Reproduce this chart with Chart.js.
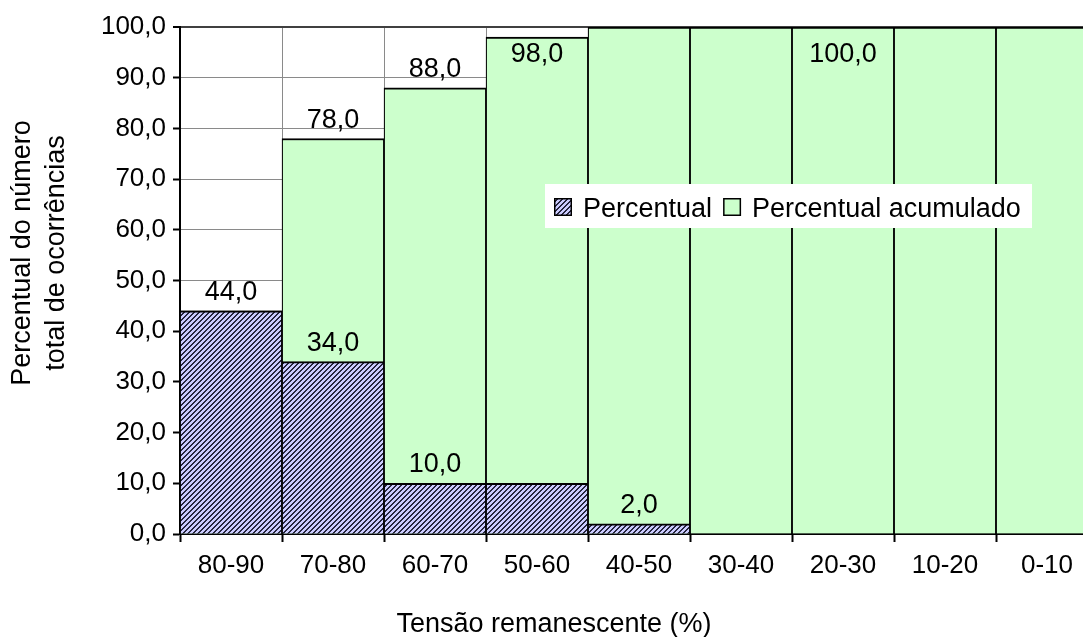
<!DOCTYPE html>
<html>
<head>
<meta charset="utf-8">
<script src="https://cdn.jsdelivr.net/npm/chart.js@4/dist/chart.umd.min.js"></script>
<style>
  html, body { margin: 0; padding: 0; background: #ffffff; overflow: hidden; }
  #wrap { width: 1100px; height: 637px; }
</style>
</head>
<body>
<div id="wrap"><canvas id="chart" width="1100" height="637"></canvas></div>
<script>
// Voltage sag classes (remaining voltage, %)
const categories = ['80-90', '70-80', '60-70', '50-60', '40-50', '30-40', '20-30', '10-20', '0-10'];
// Share of the total number of events per class
const percentual = [44, 34, 10, 10, 2, 0, 0, 0, 0];
// Running total of the shares
const acumulado = [44, 78, 88, 98, 100, 100, 100, 100, 100];
// Which value labels are printed for each series
const showPercentualLabel = [true, true, true, false, true, false, false, false, false];
const showAcumuladoLabel = [false, true, true, true, false, false, true, false, false];
// Value axis range
const yMin = 0;
const yMax = 100;
const yStep = 10;

const FONT = '"Liberation Sans", Arial, sans-serif';
const fmt = v => Number(v).toFixed(1).replace('.', ',');

// Diagonal hatch fill for the "Percentual" bars
function makeHatch(g0) {
  const s = 5;
  const c = document.createElement('canvas');
  c.width = s; c.height = s;
  const g = c.getContext('2d');
  g.fillStyle = '#ccccff';
  g.fillRect(0, 0, s, s);
  g.fillStyle = '#26263e';
  for (let x = 0; x < s; x++) {
    for (let y = 0; y < s; y++) {
      if ((x + y) % s < 2) g.fillRect(x, y, 1, 1);
    }
  }
  return g0.createPattern(c, 'repeat');
}
const ctx0 = document.getElementById('chart').getContext('2d');
const hatch = makeHatch(ctx0);

// Value labels above the bars
const valueLabels = {
  id: 'valueLabels',
  afterDatasetsDraw(chart) {
    const ctx = chart.ctx;
    const area = chart.chartArea;
    const flags = [showPercentualLabel, showAcumuladoLabel];
    ctx.save();
    ctx.font = '27px ' + FONT;
    ctx.fillStyle = '#000';
    ctx.textAlign = 'center';
    ctx.textBaseline = 'alphabetic';
    chart.data.datasets.forEach((ds, di) => {
      const meta = chart.getDatasetMeta(di);
      meta.data.forEach((el, i) => {
        if (!flags[di][i]) return;
        const y = Math.max(el.y - 11, area.top + 35);
        ctx.fillText(fmt(ds.data[i]), el.x, y);
      });
    });
    ctx.restore();
  }
};

// Legend box inside the plot area
const boxLegend = {
  id: 'boxLegend',
  afterDraw(chart) {
    const ctx = chart.ctx;
    const x0 = 545, y0 = 184, w = 487, h = 44;
    ctx.save();
    ctx.fillStyle = '#ffffff';
    ctx.fillRect(x0, y0, w, h);
    ctx.font = '27px ' + FONT;
    ctx.textBaseline = 'alphabetic';
    ctx.textAlign = 'left';
    let x = x0 + 9;
    chart.data.datasets.forEach(ds => {
      ctx.fillStyle = ds.backgroundColor;
      ctx.fillRect(x, y0 + 14, 18, 18);
      ctx.strokeStyle = '#000';
      ctx.lineWidth = 1.5;
      ctx.strokeRect(x + 0.75, y0 + 14.75, 16.5, 16.5);
      x += 29;
      ctx.fillStyle = '#000';
      ctx.fillText(ds.label, x, y0 + 33);
      x += ctx.measureText(ds.label).width + 11;
    });
    ctx.restore();
  }
};

// Axis titles
const axisTitles = {
  id: 'axisTitles',
  afterDraw(chart) {
    const ctx = chart.ctx;
    ctx.save();
    ctx.fillStyle = '#000';
    ctx.font = '27px ' + FONT;
    ctx.textAlign = 'center';
    ctx.textBaseline = 'middle';
    ctx.translate(40, 253);
    ctx.rotate(-Math.PI / 2);
    ctx.fillText('Percentual do número', 0, -17);
    ctx.fillText('total de ocorrências', 0, 17);
    ctx.restore();

    ctx.save();
    ctx.fillStyle = '#000';
    ctx.font = '27px ' + FONT;
    ctx.textAlign = 'center';
    ctx.textBaseline = 'alphabetic';
    ctx.fillText('Tensão remanescente (%)', 554, 632);
    ctx.restore();
  }
};

new Chart(ctx0, {
  type: 'bar',
  data: {
    labels: categories,
    datasets: [
      {
        label: 'Percentual',
        data: percentual,
        backgroundColor: hatch,
        borderColor: '#000',
        borderWidth: { top: 2, left: 1.25, right: 1.25, bottom: 0 },
        grouped: false,
        barPercentage: 1,
        categoryPercentage: 1
      },
      {
        label: 'Percentual acumulado',
        data: acumulado,
        backgroundColor: '#ccffcc',
        borderColor: '#000',
        borderWidth: { top: 2, left: 1.25, right: 1.25, bottom: 0 },
        grouped: false,
        barPercentage: 1,
        categoryPercentage: 1
      }
    ]
  },
  options: {
    responsive: false,
    animation: false,
    devicePixelRatio: 1,
    events: [],
    layout: { padding: { left: 0, top: 27, right: 2, bottom: 0 } },
    plugins: {
      legend: { display: false },
      tooltip: { enabled: false },
      title: { display: false }
    },
    scales: {
      x: {
        offset: true,
        grid: {
          offset: true,
          display: true,
          drawOnChartArea: true,
          color: '#8a8a8a',
          lineWidth: 1,
          borderDash: [1, 1],
          tickColor: '#000',
          tickWidth: 2,
          tickLength: 8,
          tickBorderDash: []
        },
        border: { display: true, color: '#000', width: 2 },
        ticks: {
          color: '#000',
          font: { family: FONT, size: 26 },
          padding: 8,
          maxRotation: 0,
          autoSkip: false
        },
        afterFit(scale) { scale.height = 103; }
      },
      y: {
        min: yMin,
        max: yMax,
        grid: {
          color: c => (c.tick && c.tick.value === yMax ? '#404040' : '#8a8a8a'),
          lineWidth: c => (c.tick && c.tick.value === yMax ? 2 : 1),
          borderDash: [1, 1],
          tickColor: '#000',
          tickWidth: 2,
          tickLength: 7,
          tickBorderDash: []
        },
        border: { display: true, color: '#000', width: 2 },
        ticks: {
          stepSize: yStep,
          color: '#000',
          font: { family: FONT, size: 26 },
          padding: 7,
          callback: v => fmt(v)
        },
        afterFit(scale) { scale.width = 180; }
      }
    }
  },
  plugins: [valueLabels, boxLegend, axisTitles]
});
</script>
</body>
</html>
